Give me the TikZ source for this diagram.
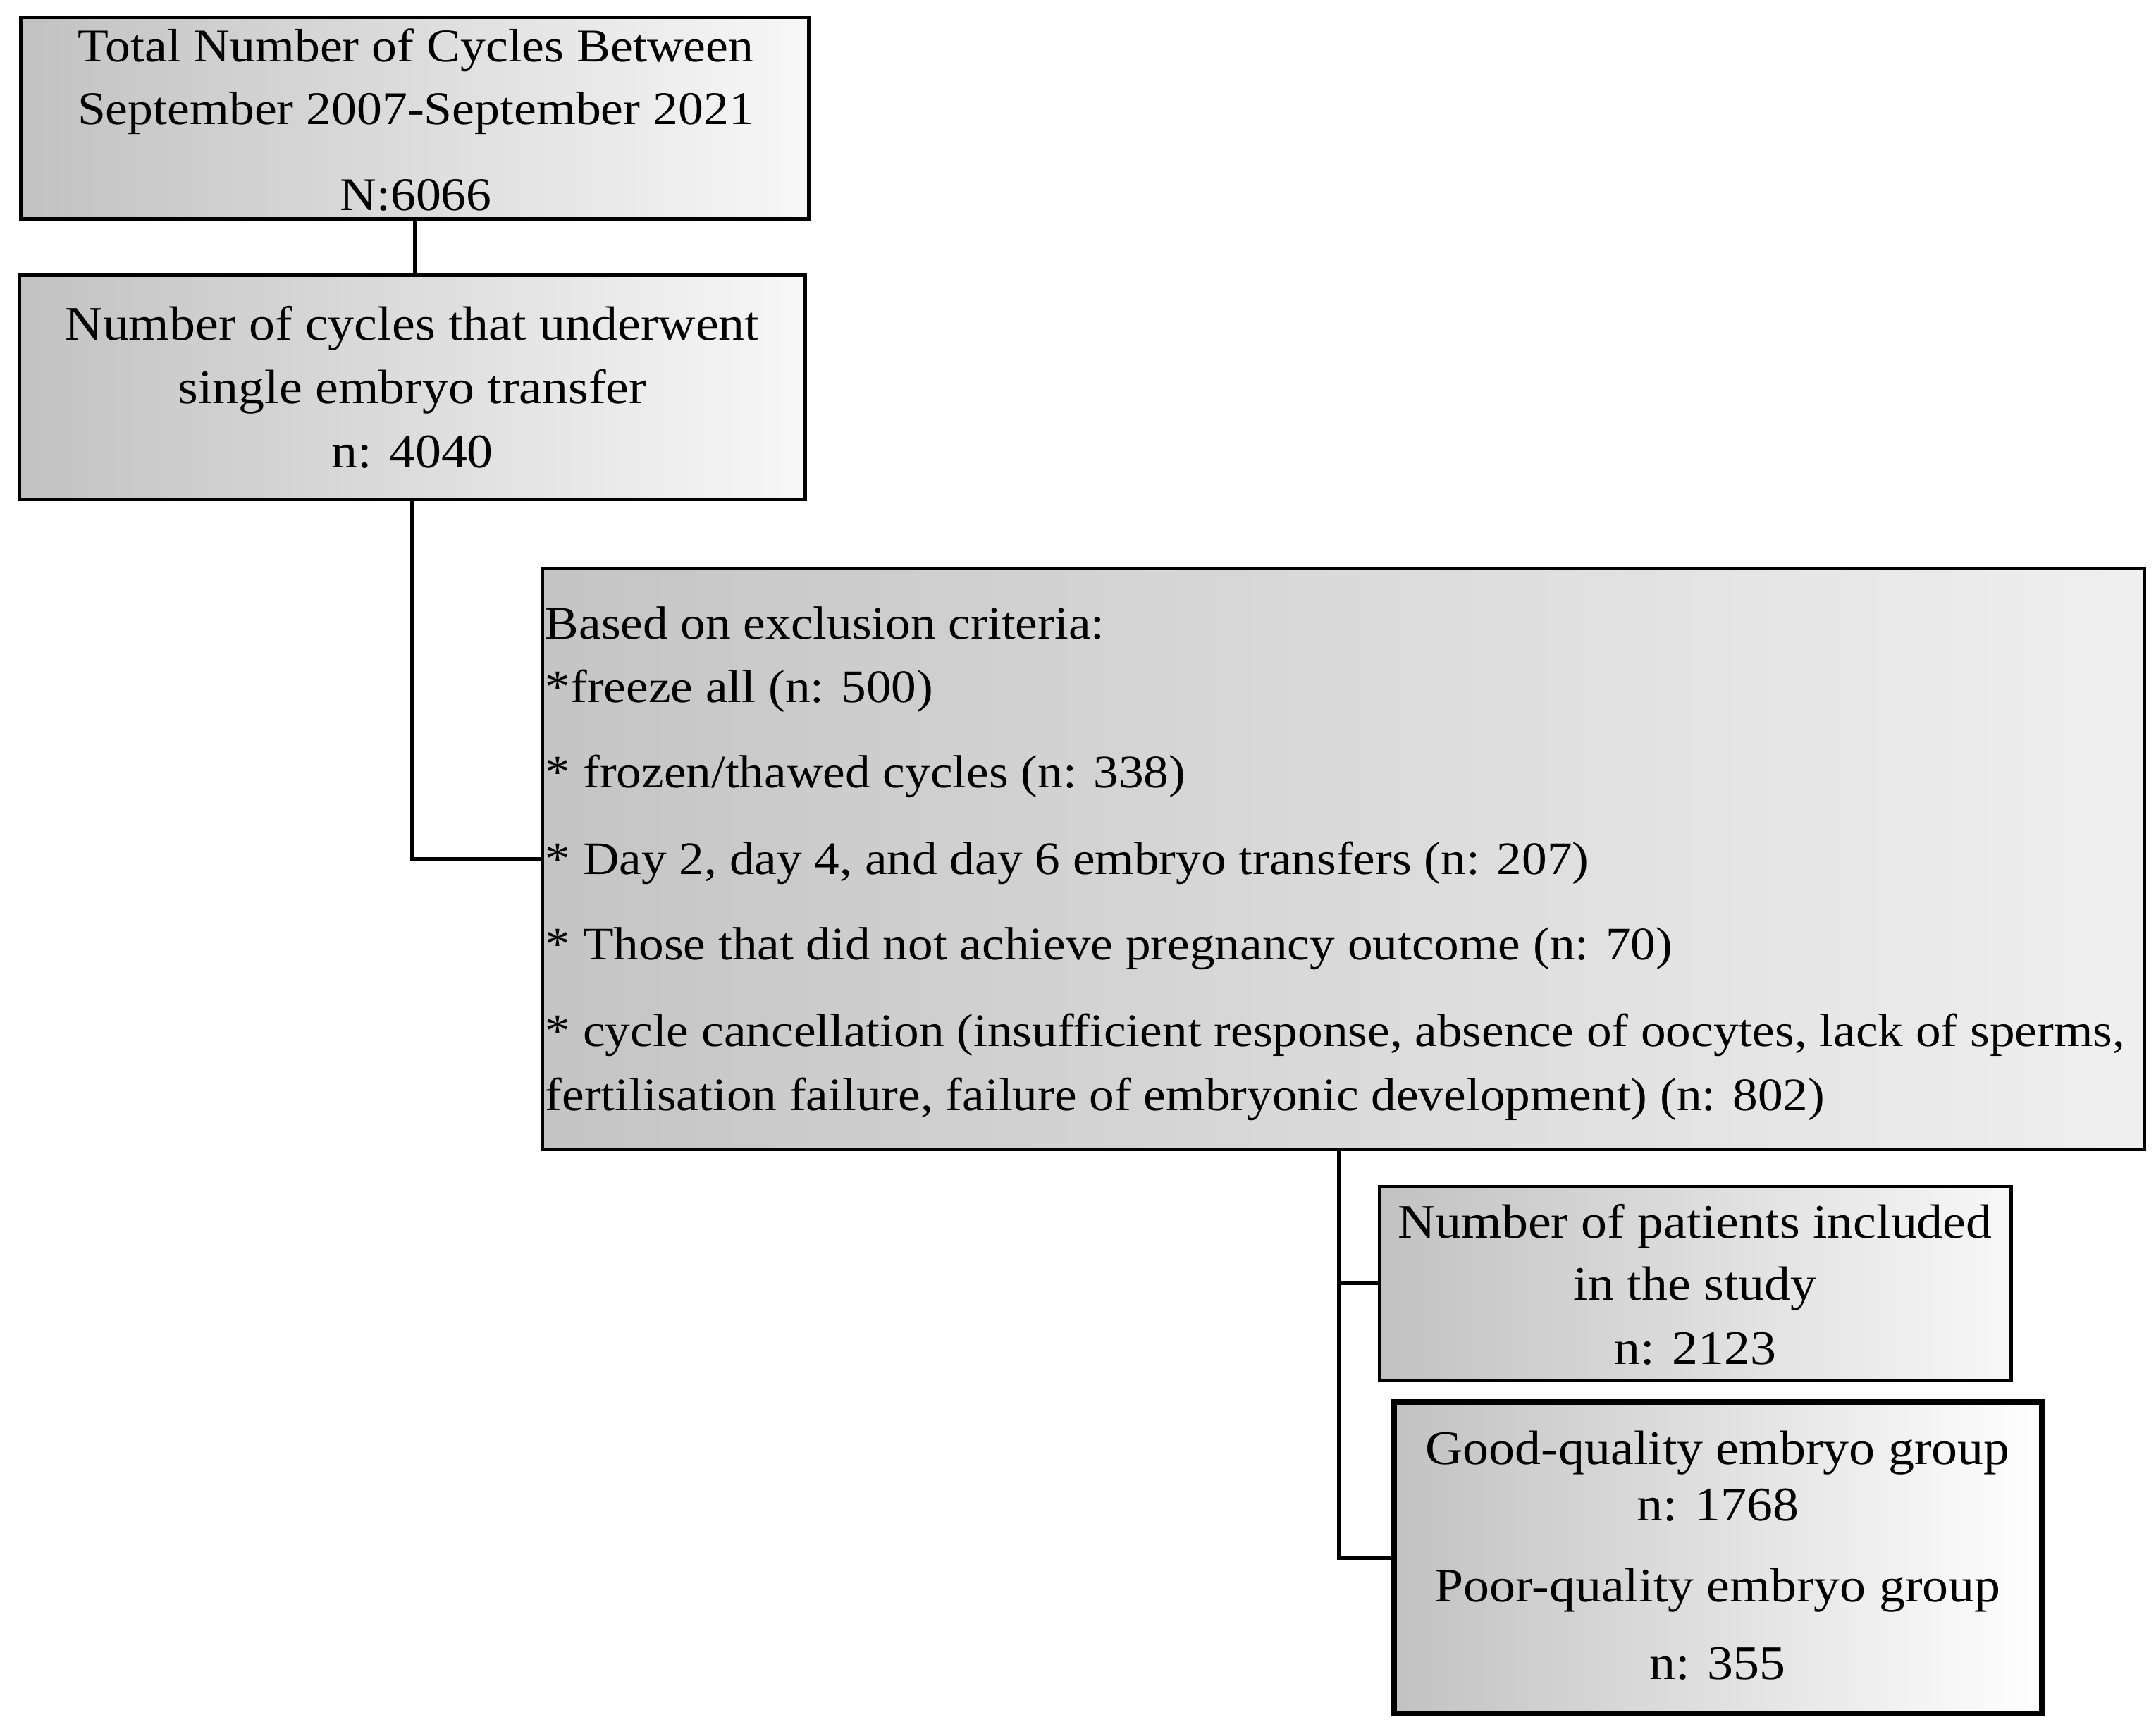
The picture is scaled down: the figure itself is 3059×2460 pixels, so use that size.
\documentclass[tikz,border=0pt]{standalone}
\usepackage{fontspec}
\setmainfont[FakeStretch=1.08]{Liberation Serif}
\usetikzlibrary{fit}
\begin{document}
\begin{tikzpicture}[x=0.25pt,y=-0.25pt,
  box/.style={draw=black, line width=1.25pt, rectangle, inner sep=0pt,
    left color=black!24, right color=black!3},
  thickbox/.style={box, line width=2pt},
  txt/.style={anchor=base, inner sep=0pt, font=\fontsize{17.1}{20}\selectfont},
  txts/.style={txt, font=\fontsize{16.6}{20}\selectfont},
  txtl/.style={anchor=base west, inner sep=0pt, font=\fontsize{16.5}{20}\selectfont},
  conn/.style={line width=1.25pt}]
\useasboundingbox (0,0) rectangle (3059,2460);

% boxes
\node[box, fit={(29,25) (1147,311)}] (b1) {};
\node[box, fit={(27,391) (1142,708)}] (b2) {};
\node[box, fit={(769,806) (3042,1630)}, left color=black!23, right color=black!6] (b3) {};
\node[box, fit={(1957,1683) (2853,1958)}] (b4) {};
\node[thickbox, fit={(1978,1989) (2897,2431)}, right color=white] (b5) {};

% connectors
\coordinate (j3) at ([xshift=-1.5pt]b3.south);
\draw[conn] (b1.south) -- (b1.south |- b2.north);
\draw[conn] (b2.south) |- (b3.west);
\draw[conn] (j3) |- (b4.west);
\draw[conn] (j3) |- (b5.west);

% box 1 text
\node[txts] (t11) at (590,88) {Total Number of Cycles Between};
\node[txts] (t12) at (590,177) {September 2007-September 2021};
\node[txts] (t13) at (590,299) {N:6066};
% box 2 text
\node[txt] (t21) at (585,483) {Number of cycles that underwent};
\node[txt] (t22) at (585,572) {single embryo transfer};
\node[txt] (t23) at (585,663) {n: 4040};
% box 3 text
\node[txtl] (t31) at (773,906) {Based on exclusion criteria:};
\node[txtl] (t32) at (773,996) {*freeze all (n: 500)};
\node[txtl] (t33) at (773,1117) {* frozen/thawed cycles (n: 338)};
\node[txtl] (t34) at (773,1240) {* Day 2, day 4, and day 6 embryo transfers (n: 207)};
\node[txtl] (t35) at (773,1361) {* Those that did not achieve pregnancy outcome (n: 70)};
\node[txtl] (t36) at (773,1484) {* cycle cancellation (insufficient response, absence of oocytes, lack of sperms,};
\node[txtl] (t37) at (773,1575) {fertilisation failure, failure of embryonic development) (n: 802)};
% box 4 text
\node[txt] (t41) at (2405,1756) {Number of patients included};
\node[txt] (t42) at (2405,1844) {in the study};
\node[txt] (t43) at (2405,1935) {n: 2123};
% box 5 text
\node[txt] (t51) at (2437,2077) {Good-quality embryo group};
\node[txt] (t52) at (2437,2157) {n: 1768};
\node[txt] (t53) at (2437,2272) {Poor-quality embryo group};
\node[txt] (t54) at (2437,2382) {n: 355};
\end{tikzpicture}
\end{document}
